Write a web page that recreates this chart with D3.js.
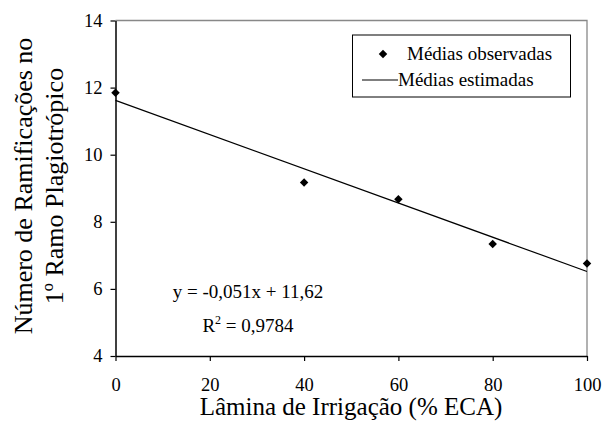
<!DOCTYPE html>
<html>
<head>
<meta charset="utf-8">
<script src="https://cdn.jsdelivr.net/npm/d3@7"></script>
<style>
  body { margin: 0; background: #fff; }
</style>
</head>
<body>
<div class="d3"></div>
<script>
// observed means per irrigation level
const lamina = [0, 40, 60, 80, 100];
const observadas = [11.85, 9.17, 8.67, 7.34, 6.76];
// fitted line y = -0,051x + 11,62 at both ends of the range
const fitX = [0, 100];
const estimadas = [11.62, 6.52];
const xTicks = [0, 20, 40, 60, 80, 100];
const yTicks = [4, 6, 8, 10, 12, 14];
const equation = 'y = -0,051x + 11,62';
const r2 = '0,9784';

const serif = 'Liberation Serif';

let width = 604;
let height = 425;

let svg = d3.select('.d3').append('svg')
  .attr('width', width)
  .attr('height', height)
  .attr('font-family', serif);

let x = d3.scaleLinear().domain([0, 100]).range([115.5, 587]);
let y = d3.scaleLinear().domain([4, 14]).range([356, 20.5]);

// frame: grey top/right
svg.append('path')
  .attr('d', `M${x(0)},${y(14)}H${x(100)}V${y(4)}`)
  .attr('fill', 'none')
  .attr('stroke', '#888')
  .attr('stroke-width', 1.3);

let xAxis = svg.append('g')
  .attr('transform', `translate(0,${y(4)})`)
  .call(d3.axisBottom(x).tickValues(xTicks).tickSize(5).tickPadding(17).tickSizeOuter(0));

let yAxis = svg.append('g')
  .attr('transform', `translate(${x(0)},0)`)
  .call(d3.axisLeft(y).tickValues(yTicks).tickSize(5).tickPadding(8).tickSizeOuter(0));

[xAxis, yAxis].forEach(a => {
  a.attr('font-family', serif).attr('font-size', 18.5);
  a.select('.domain').attr('stroke', '#000').attr('stroke-width', 1.5);
  a.selectAll('.tick line').attr('stroke', '#000').attr('stroke-width', 1.2);
  a.selectAll('text').attr('fill', '#000');
});

// fitted line
svg.append('path')
  .datum(fitX.map((v, i) => [v, estimadas[i]]))
  .attr('fill', 'none')
  .attr('stroke', '#000')
  .attr('stroke-width', 1.2)
  .attr('d', d3.line().x(d => x(d[0])).y(d => y(d[1])));

// observed points
let diamond = d3.symbol(d3.symbolSquare, 36);
svg.selectAll('.pt')
  .data(lamina)
  .enter()
  .append('path')
  .attr('class', 'pt')
  .attr('d', diamond)
  .attr('fill', '#000')
  .attr('transform', (d, i) => `translate(${x(d)},${y(observadas[i])}) rotate(45)`);

// equation
svg.append('text')
  .attr('x', 248).attr('y', 298)
  .attr('text-anchor', 'middle')
  .attr('font-size', 19)
  .text(equation);

let r2Text = svg.append('text')
  .attr('x', 248).attr('y', 332)
  .attr('text-anchor', 'middle')
  .attr('font-size', 19);
r2Text.append('tspan').text('R');
r2Text.append('tspan').attr('dy', -8).attr('font-size', 12).text('2');
r2Text.append('tspan').attr('dy', 8).text(' = ' + r2);

// legend
let leg = svg.append('g');
leg.append('rect')
  .attr('x', 352.5).attr('y', 35)
  .attr('width', 218).attr('height', 62)
  .attr('fill', '#fff')
  .attr('stroke', '#000')
  .attr('stroke-width', 1);
leg.append('path')
  .attr('d', diamond)
  .attr('fill', '#000')
  .attr('transform', 'translate(383,54) rotate(45)');
leg.append('text')
  .attr('x', 407).attr('y', 60)
  .attr('font-size', 19)
  .text('Médias observadas');
leg.append('line')
  .attr('x1', 362).attr('x2', 398)
  .attr('y1', 80).attr('y2', 80)
  .attr('stroke', '#000')
  .attr('stroke-width', 1.2);
leg.append('text')
  .attr('x', 398).attr('y', 86)
  .attr('font-size', 19)
  .text('Médias estimadas');

// axis titles
svg.append('text')
  .attr('x', 351).attr('y', 415)
  .attr('text-anchor', 'middle')
  .attr('font-size', 25)
  .text('Lâmina de Irrigação (% ECA)');

let yTitle = svg.append('text')
  .attr('transform', 'translate(0,186) rotate(-90)')
  .attr('text-anchor', 'middle')
  .attr('font-size', 26);
yTitle.append('tspan').attr('x', 0).attr('y', 32).text('Número de Ramificações no');
yTitle.append('tspan').attr('x', 0).attr('y', 63).text('1º Ramo Plagiotrópico');
</script>
</body>
</html>
